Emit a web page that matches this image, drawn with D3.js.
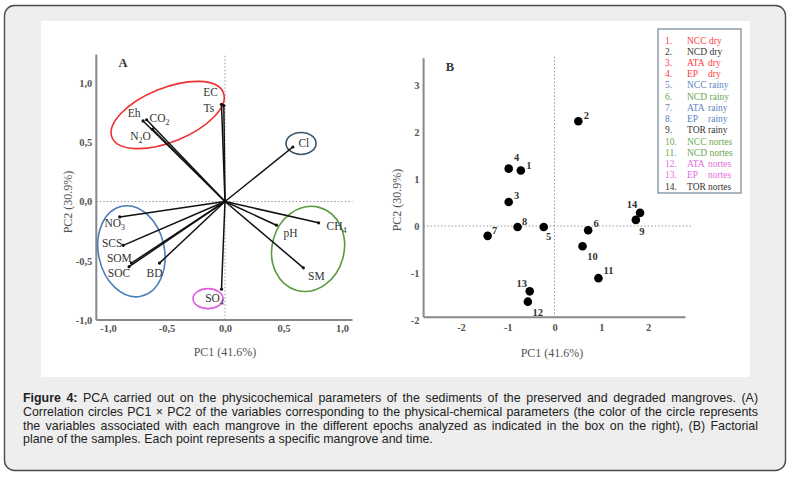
<!DOCTYPE html>
<html>
<head>
<meta charset="utf-8">
<script src="https://cdn.jsdelivr.net/npm/d3@7"></script>
<style>
  body { margin: 0; background: #fff; }
  #wrap { position: relative; width: 795px; height: 480px; }
  svg { position: absolute; left: 0; top: 0; }
  .caption { position: absolute; left: 23px; top: 392px; width: 735px;
    font-family: "Liberation Sans", Arial, sans-serif; font-size: 12.4px; line-height: 13.8px; color: #222; }
  .caption div { text-align: justify; text-align-last: justify; white-space: nowrap; }
  .caption div.last { text-align-last: left; }
</style>
</head>
<body>
<div id="wrap"></div>
<script>
// panel A: loadings of the variables
const varNames = ['EC', 'Ts', 'Eh', 'CO2', 'N2O', 'Cl', 'NO3', 'SCS', 'SOM', 'SOC', 'BD', 'SO4', 'pH', 'CH4', 'SM'];
const varPC1 = [-0.03, -0.01, -0.70, -0.67, -0.62, 0.58, -0.90, -0.87, -0.80, -0.82, -0.56, -0.03, 0.44, 0.80, 0.67];
const varPC2 = [0.82, 0.81, 0.68, 0.69, 0.61, 0.46, -0.13, -0.37, -0.52, -0.55, -0.52, -0.74, -0.20, -0.18, -0.56];
const ticksA = [-1, -0.5, 0, 0.5, 1];

// panel B: sample scores
const sampleIds = [1, 2, 3, 4, 5, 6, 7, 8, 9, 10, 11, 12, 13, 14];
const sampleSites = ['NCC', 'NCD', 'ATA', 'EP', 'NCC', 'NCD', 'ATA', 'EP', 'TOR', 'NCC', 'NCD', 'ATA', 'EP', 'TOR'];
const sampleSeasons = ['dry', 'dry', 'dry', 'dry', 'rainy', 'rainy', 'rainy', 'rainy', 'rainy', 'nortes', 'nortes', 'nortes', 'nortes', 'nortes'];
const samplePC1 = [-0.72, 0.51, -0.98, -0.98, -0.23, 0.72, -1.43, -0.79, 1.74, 0.60, 0.94, -0.57, -0.53, 1.83];
const samplePC2 = [1.18, 2.23, 0.51, 1.22, -0.02, -0.09, -0.21, -0.02, 0.13, -0.43, -1.11, -1.61, -1.39, 0.28];
const ticksBx = [-2, -1, 0, 1, 2];
const ticksBy = [-2, -1, 0, 1, 2, 3];

const captionLines = [
  'PCA carried out on the physicochemical parameters of the sediments of the preserved and degraded mangroves. (A)',
  'Correlation circles PC1 × PC2 of the variables corresponding to the physical-chemical parameters (the color of the circle represents',
  'the variables associated with each mangrove in the different epochs analyzed as indicated in the box on the right), (B) Factorial',
  'plane of the samples. Each point represents a specific mangrove and time.'
];

// styling / layout
const legendColors = ['#ff3b3b', '#333', '#ff3b3b', '#ff3b3b', '#5b86c0', '#6aa84f', '#5b86c0', '#5b86c0', '#333', '#6aa84f', '#6aa84f', '#e36fe3', '#e36fe3', '#333'];
const varLabelOff = { EC: [-11, -12], Ts: [-15, 2], Eh: [-9, -8], CO2: [13, -2], N2O: [-12, 7], Cl: [11, -4],
  NO3: [-5, 6], SCS: [-11, -2], SOM: [-12, -5], SOC: [-10, 6], BD: [-5, 10], SO4: [-7, 9],
  pH: [14, 8], CH4: [18, 3], SM: [13, 8] };
const ptLabelOff = [[8, -6], [8, -6], [8, -7], [8, -12], [5, 9], [8, -7], [7, -6], [7, -6], [6, 11], [10, 10], [10, -8], [10, 10], [-8, -8], [-8, -9]];
const rings = [
  { cx: -0.49, cy: 0.73, rx: 60, ry: 27, rot: -22, color: '#ee3030' },
  { cx: 0.65, cy: 0.49, rx: 15, ry: 11, rot: 0, color: '#3b5468' },
  { cx: -0.80, cy: -0.42, rx: 33, ry: 46, rot: -12, color: '#4a7dba' },
  { cx: -0.145, cy: -0.82, rx: 15, ry: 10, rot: 0, color: '#e05ce0' },
  { cx: 0.71, cy: -0.40, rx: 36, ry: 43, rot: 15, color: '#5a9b40' }
];

const serif = '"Liberation Serif", "DejaVu Serif", serif';
const fmt = d3.formatLocale({ decimal: ',', thousands: '.', grouping: [3], currency: ['', ''], minus: '-' }).format('.1f');

const wrap = d3.select('#wrap');
const svg = wrap.append('svg').attr('width', 795).attr('height', 480);

svg.append('rect').attr('x', 4.5).attr('y', 5.5).attr('width', 781).attr('height', 465).attr('rx', 10)
  .attr('fill', '#eeeeee').attr('stroke', '#4a4a4a').attr('stroke-width', 1.4);
svg.append('rect').attr('x', 41).attr('y', 21).attr('width', 709).attr('height', 356).attr('fill', '#fff');

function subLabel(sel, name) {
  // digits become subscripts (CO2, NO3 ...)
  name.split(/(\d)/).filter(s => s).forEach(s => {
    const t = sel.append('tspan').text(s);
    if (/\d/.test(s)) t.attr('font-size', '8px').attr('dy', 3);
    else if (sel.selectAll('tspan').size() > 1) t.attr('dy', -3);
  });
}

// ---------------- panel A ----------------
const xA = d3.scaleLinear().domain([-1, 1]).range([108, 342]);
const yA = d3.scaleLinear().domain([-1, 1]).range([320, 83]);
const gA = svg.append('g');

gA.append('line').attr('x1', xA(0)).attr('x2', xA(0)).attr('y1', yA(1.23)).attr('y2', yA(-1))
  .attr('stroke', '#999').attr('stroke-dasharray', '1.5,2').attr('stroke-width', 1);
gA.append('line').attr('x1', xA(-1.1)).attr('x2', xA(1.09)).attr('y1', yA(0)).attr('y2', yA(0))
  .attr('stroke', '#999').attr('stroke-dasharray', '1.5,2').attr('stroke-width', 1);

const axLA = gA.append('g').attr('transform', `translate(${xA(-1.1)},0)`)
  .call(d3.axisLeft(yA).tickValues(ticksA).tickSize(0).tickPadding(4).tickFormat(fmt));
const axBA = gA.append('g').attr('transform', `translate(0,${yA(-1)})`)
  .call(d3.axisBottom(xA).tickValues(ticksA).tickSize(0).tickPadding(5).tickFormat(fmt));
[axLA, axBA].forEach(a => {
  a.select('.domain').remove();
  a.selectAll('text').attr('font-family', serif).attr('font-weight', 'bold').attr('font-size', '10.5px').attr('fill', '#555');
});
gA.append('line').attr('x1', xA(-1.1)).attr('x2', xA(-1.1)).attr('y1', yA(1.24)).attr('y2', yA(-1))
  .attr('stroke', '#888').attr('stroke-width', 2);
gA.append('line').attr('x1', xA(-1.1)).attr('x2', xA(1.09)).attr('y1', yA(-1)).attr('y2', yA(-1))
  .attr('stroke', '#888').attr('stroke-width', 2);

gA.selectAll('ellipse').data(rings).join('ellipse')
  .attr('transform', d => `translate(${xA(d.cx)},${yA(d.cy)}) rotate(${d.rot})`)
  .attr('rx', d => d.rx).attr('ry', d => d.ry)
  .attr('fill', 'none').attr('stroke', d => d.color).attr('stroke-width', 1.6);

const vecs = varNames.map((n, i) => ({ name: n, x: varPC1[i], y: varPC2[i] }));
gA.selectAll('line.vec').data(vecs).join('line').attr('class', 'vec')
  .attr('x1', xA(0)).attr('y1', yA(0)).attr('x2', d => xA(d.x)).attr('y2', d => yA(d.y))
  .attr('stroke', '#111').attr('stroke-width', 1.5);
gA.selectAll('circle.tip').data(vecs).join('circle').attr('class', 'tip')
  .attr('cx', d => xA(d.x)).attr('cy', d => yA(d.y)).attr('r', 1.6).attr('fill', '#111');
gA.selectAll('text.vl').data(vecs).join('text').attr('class', 'vl')
  .attr('x', d => xA(d.x) + varLabelOff[d.name][0]).attr('y', d => yA(d.y) + varLabelOff[d.name][1] + 4)
  .attr('text-anchor', 'middle').attr('font-family', serif).attr('font-size', '11.5px').attr('fill', '#333')
  .each(function (d) { subLabel(d3.select(this), d.name); });

gA.append('text').attr('x', 123).attr('y', 67).attr('text-anchor', 'middle').attr('font-family', serif)
  .attr('font-weight', 'bold').attr('font-size', '12.5px').attr('fill', '#333').text('A');
gA.append('text').attr('x', 225).attr('y', 356).attr('text-anchor', 'middle').attr('font-family', serif)
  .attr('font-size', '12px').attr('fill', '#555').text('PC1 (41.6%)');
gA.append('text').attr('transform', 'translate(72,202) rotate(-90)').attr('text-anchor', 'middle').attr('font-family', serif)
  .attr('font-size', '12px').attr('fill', '#555').text('PC2 (30.9%)');

// ---------------- panel B ----------------
const xB = d3.scaleLinear().domain([-2, 2]).range([461, 648]);
const yB = d3.scaleLinear().domain([-2, 3]).range([320, 85]);
const gB = svg.append('g');

gB.append('line').attr('x1', xB(0)).attr('x2', xB(0)).attr('y1', yB(3.6)).attr('y2', yB(-1.95))
  .attr('stroke', '#999').attr('stroke-dasharray', '1.5,2').attr('stroke-width', 1);
gB.append('line').attr('x1', xB(-2.8)).attr('x2', xB(2.93)).attr('y1', yB(0)).attr('y2', yB(0))
  .attr('stroke', '#999').attr('stroke-dasharray', '1.5,2').attr('stroke-width', 1);

const axLB = gB.append('g').attr('transform', `translate(${xB(-2.8)},0)`)
  .call(d3.axisLeft(yB).tickValues(ticksBy).tickSize(0).tickPadding(4).tickFormat(d3.format('d')));
const axBB = gB.append('g').attr('transform', `translate(0,${yB(-1.94)})`)
  .call(d3.axisBottom(xB).tickValues(ticksBx).tickSize(0).tickPadding(6).tickFormat(d3.format('d')));
[axLB, axBB].forEach(a => {
  a.select('.domain').remove();
  a.selectAll('text').attr('font-family', serif).attr('font-weight', 'bold').attr('font-size', '10.5px').attr('fill', '#555')
    .text(d => (d < 0 ? '-' + Math.abs(d) : d));
});
gB.append('line').attr('x1', xB(-2.8)).attr('x2', xB(-2.8)).attr('y1', yB(3.57)).attr('y2', yB(-1.94))
  .attr('stroke', '#888').attr('stroke-width', 2);
gB.append('line').attr('x1', xB(-2.8)).attr('x2', xB(2.8)).attr('y1', yB(-1.94)).attr('y2', yB(-1.94))
  .attr('stroke', '#888').attr('stroke-width', 2);

const pts = sampleIds.map((id, i) => ({ id, x: samplePC1[i], y: samplePC2[i], off: ptLabelOff[i] }));
gB.selectAll('circle.pt').data(pts).join('circle').attr('class', 'pt')
  .attr('cx', d => xB(d.x)).attr('cy', d => yB(d.y)).attr('r', 4.3).attr('fill', '#000');
gB.selectAll('text.pl').data(pts).join('text').attr('class', 'pl')
  .attr('x', d => xB(d.x) + d.off[0]).attr('y', d => yB(d.y) + d.off[1] + 4)
  .attr('text-anchor', 'middle').attr('font-family', serif).attr('font-weight', 'bold')
  .attr('font-size', '10.5px').attr('fill', '#333').text(d => d.id);

gB.append('text').attr('x', 450).attr('y', 71).attr('text-anchor', 'middle').attr('font-family', serif)
  .attr('font-weight', 'bold').attr('font-size', '12.5px').attr('fill', '#333').text('B');
gB.append('text').attr('x', 552).attr('y', 357).attr('text-anchor', 'middle').attr('font-family', serif)
  .attr('font-size', '12px').attr('fill', '#555').text('PC1 (41.6%)');
gB.append('text').attr('transform', 'translate(401,200) rotate(-90)').attr('text-anchor', 'middle').attr('font-family', serif)
  .attr('font-size', '12px').attr('fill', '#555').text('PC2 (30.9%)');

// legend
const lg = svg.append('g');
lg.append('rect').attr('x', 658).attr('y', 29).attr('width', 83).attr('height', 164)
  .attr('fill', '#fff').attr('stroke', '#8d9daa').attr('stroke-width', 1.5);
const rowY = d3.scalePoint().domain(sampleIds).range([40, 186]);
const rows = lg.selectAll('g.row').data(sampleIds).join('g').attr('class', 'row')
  .attr('transform', d => `translate(0,${rowY(d) + 3.5})`)
  .attr('font-family', serif).attr('font-size', '9.5px').attr('fill', (d, i) => legendColors[i]);
rows.append('text').attr('x', 665).text(d => d + '.');
rows.append('text').attr('class', 'site').attr('x', 687).text((d, i) => sampleSites[i]);
rows.append('text').attr('x', function (d, i) {
  const w = this.parentNode.querySelector('.site').getComputedTextLength();
  return Math.max(708, 687 + w + (sampleSites[i] === 'TOR' ? 0.5 : 2.5));
}).text((d, i) => sampleSeasons[i]);

// caption
const cap = wrap.append('div').attr('class', 'caption');
captionLines.forEach((l, i) => {
  const row = cap.append('div').classed('last', i === captionLines.length - 1);
  if (i === 0) { row.append('b').text('Figure 4:'); row.append('span').text(' ' + l); }
  else row.text(l);
});
</script>
</body>
</html>
